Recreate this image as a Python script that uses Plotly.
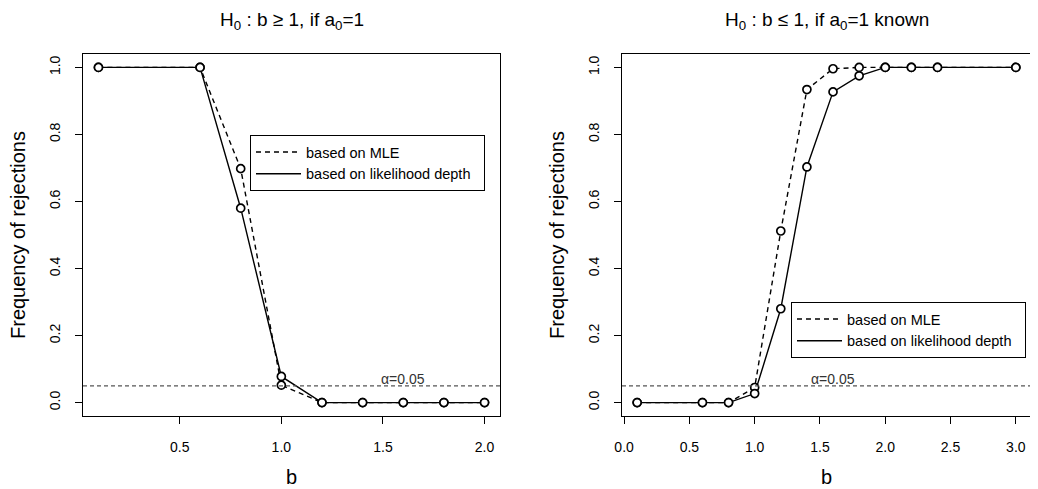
import plotly.graph_objects as go
from plotly.subplots import make_subplots

# left panel: H0: b >= 1
b_left = [0.1, 0.6, 0.8, 1.0, 1.2, 1.4, 1.6, 1.8, 2.0]
mle_left = [1.0, 1.0, 0.698, 0.052, 0.0, 0.0, 0.0, 0.0, 0.0]
depth_left = [1.0, 1.0, 0.58, 0.078, 0.0, 0.0, 0.0, 0.0, 0.0]

# right panel: H0: b <= 1
b_right = [0.1, 0.6, 0.8, 1.0, 1.2, 1.4, 1.6, 1.8, 2.0, 2.2, 2.4, 3.0]
mle_right = [0.0, 0.0, 0.0, 0.045, 0.512, 0.934, 0.996, 1.0, 1.0, 1.0, 1.0, 1.0]
depth_right = [0.0, 0.0, 0.0, 0.027, 0.28, 0.703, 0.927, 0.975, 1.0, 1.0, 1.0, 1.0]

alpha = 0.05
alpha_label_x = 1.6

titles = ["H<sub>0</sub> : b \u2265 1, if a<sub>0</sub>=1",
          "H<sub>0</sub> : b \u2264 1, if a<sub>0</sub>=1 known"]

FONT = "Liberation Sans, Arial, sans-serif"

fig = make_subplots(rows=1, cols=2)

panels = [(b_left, mle_left, depth_left, "legend"),
          (b_right, mle_right, depth_right, "legend2")]

for i, (bx, mle, depth, leg) in enumerate(panels):
    col = i + 1
    sfx = "" if col == 1 else str(col)
    # lines (shown in legend)
    fig.add_trace(go.Scatter(x=bx, y=mle, mode="lines", name="based on MLE\u00a0\u00a0",
                             line=dict(color="black", width=1.4, dash="5px,4px"),
                             legend=leg), row=1, col=col)
    fig.add_trace(go.Scatter(x=bx, y=depth, mode="lines",
                             name="based on likelihood depth\u00a0\u00a0",
                             line=dict(color="black", width=1.4),
                             legend=leg), row=1, col=col)
    # open circles
    for yy in (mle, depth):
        fig.add_trace(go.Scatter(x=bx, y=yy, mode="markers", showlegend=False,
                                 marker=dict(symbol="circle", size=8, color="white",
                                             line=dict(color="black", width=1.7))),
                      row=1, col=col)
    # alpha reference line
    fig.add_shape(type="line", xref="x%s domain" % sfx, yref="y%s" % sfx,
                  x0=0, x1=1, y0=alpha, y1=alpha,
                  line=dict(color="#555555", width=1.2, dash="4px,3px"))
    fig.add_annotation(x=alpha_label_x, y=alpha, xref="x%s" % sfx, yref="y%s" % sfx,
                       text="\u03b1=0.05", showarrow=False, yanchor="bottom", yshift=-3,
                       font=dict(size=14, color="#333333", family=FONT))

axis_common = dict(showline=True, linecolor="black", linewidth=1, mirror=True,
                   ticks="outside", ticklen=7, tickcolor="black", showgrid=False,
                   zeroline=False, tickfont=dict(size=14, color="black", family=FONT))

fig.update_xaxes(**axis_common, ticklabelstandoff=11)
fig.update_yaxes(**axis_common, range=[-0.04, 1.04], tickvals=[0, 0.2, 0.4, 0.6, 0.8, 1.0],
                 ticktext=["0.0", "0.2", "0.4", "0.6", "0.8", "1.0"], tickangle=-90,
                 ticklabelstandoff=9)

fig.update_xaxes(range=[0.024, 2.076], tickvals=[0.5, 1.0, 1.5, 2.0],
                 ticktext=["0.5", "1.0", "1.5", "2.0"], domain=[0, 417 / 948], row=1, col=1)
fig.update_xaxes(range=[-0.016, 3.116], tickvals=[0, 0.5, 1.0, 1.5, 2.0, 2.5, 3.0],
                 ticktext=["0.0", "0.5", "1.0", "1.5", "2.0", "2.5", "3.0"],
                 domain=[539 / 948, 1.0], row=1, col=2)

# titles and axis labels
for cx, t in zip([(0 + 417 / 948) / 2, (539 / 948 + 1) / 2], titles):
    fig.add_annotation(x=cx, y=1, xref="paper", yref="paper", yshift=33,
                       xanchor="center", yanchor="middle",
                       text=t, showarrow=False, font=dict(size=19, color="black", family=FONT))
    fig.add_annotation(x=cx, y=0, xref="paper", yref="paper", yshift=-61,
                       xanchor="center", yanchor="middle",
                       text="b", showarrow=False, font=dict(size=20, color="black", family=FONT))
for yx in [0, 539 / 948]:
    fig.add_annotation(x=yx, y=0.5, xref="paper", yref="paper", xshift=-65,
                       xanchor="center", yanchor="middle",
                       text="Frequency of rejections", textangle=-90, showarrow=False,
                       font=dict(size=20, color="black", family=FONT))

legend_common = dict(bordercolor="black", borderwidth=1, bgcolor="white",
                     font=dict(size=14.5, color="black", family=FONT),
                     xanchor="left", yanchor="top", tracegroupgap=0, itemwidth=45)

# the page body has an 8px margin, so the figure is 8px smaller than the window
fig.update_layout(
    width=1030, height=481,
    margin=dict(l=75, r=7, t=46, b=73),
    paper_bgcolor="white", plot_bgcolor="white",
    font=dict(family=FONT, color="black"),
    legend=dict(**legend_common, x=(250 - 83) / 948, y=(416 - 135) / 362),
    legend2=dict(**legend_common, x=(791 - 83) / 948, y=(416 - 302) / 362),
)

fig.write_html("out.html")
